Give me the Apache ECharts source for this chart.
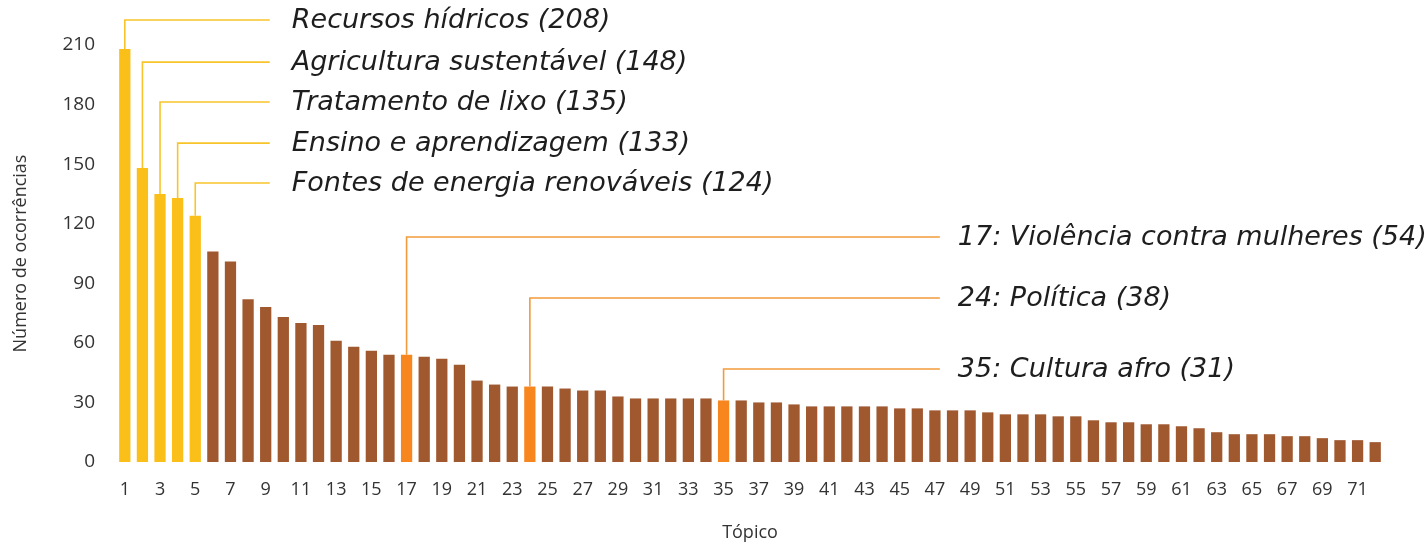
<!DOCTYPE html>
<html><head><meta charset="utf-8">
<script src="https://cdn.jsdelivr.net/npm/echarts@6/dist/echarts.min.js"></script>
<style>html,body{margin:0;padding:0;background:#fff}#c{width:1425px;height:547px}</style>
</head><body><div id="c"></div>
<script>
const topics = ['1','2','3','4','5','6','7','8','9','10','11','12','13','14','15','16','17','18','19','20','21','22','23','24','25','26','27','28','29','30','31','32','33','34','35','36','37','38','39','40','41','42','43','44','45','46','47','48','49','50','51','52','53','54','55','56','57','58','59','60','61','62','63','64','65','66','67','68','69','70','71','72'];
const occurrences = [208,148,135,133,124,106,101,82,78,73,70,69,61,58,56,54,54,53,52,49,41,39,38,38,38,37,36,36,33,32,32,32,32,32,31,31,30,30,29,28,28,28,28,28,27,27,26,26,26,25,24,24,24,23,23,21,20,20,19,19,18,17,15,14,14,14,13,13,12,11,11,10];
const topTopics = [1,2,3,4,5];
const highlightTopics = [17,24,35];
const annotationTopics = [1,2,3,4,5,17,24,35];
const annotationTexts = ['Recursos hídricos (208)','Agricultura sustentável (148)','Tratamento de lixo (135)','Ensino e aprendizagem (133)','Fontes de energia renováveis (124)','17: Violência contra mulheres (54)','24: Política (38)','35: Cultura afro (31)'];
const yTicks = ['0','30','60','90','120','150','180','210'];

// layout (annotation levels in axis units, line end / text start in category units)
const levels = [222.6,201.4,181.3,160.6,140.5,113.3,82.6,46.8];
const YELLOW='#FBBF1A', BROWN='#A0582F', ORANGE='#F8861F';

const barData = occurrences.map((v,i)=>{
  const t = i+1;
  let c = BROWN;
  if (topTopics.includes(t)) c = YELLOW;
  else if (highlightTopics.includes(t)) c = ORANGE;
  return {value:v, itemStyle:{color:c}};
});

const annData = annotationTopics.map((t,i)=>{
  const yellow = topTopics.includes(t);
  return [t-1, occurrences[t-1], levels[i], yellow?8.23:46.28, yellow?9.48:47.3];
});

const chart = echarts.init(document.getElementById('c'), null, {renderer:'canvas'});
chart.setOption({
  animation:false,
  grid:{left:116,right:41,top:45,bottom:85,containLabel:false},
  xAxis:{
    type:'category', data:topics, boundaryGap:true,
    name:'Tópico', nameLocation:'middle', nameGap:62,
    nameTextStyle:{fontFamily:'Open Sans',fontSize:18,color:'#333'},
    axisLine:{show:false}, axisTick:{show:false},
    axisLabel:{interval:1,fontFamily:'Open Sans',fontSize:18,color:'#333',margin:19}
  },
  yAxis:{
    type:'value', min:0, max:210, interval:30,
    name:'Número de ocorrências', nameLocation:'middle', nameGap:86, nameRotate:90,
    nameTextStyle:{fontFamily:'Open Sans',fontSize:18,color:'#333'},
    axisLine:{show:false}, axisTick:{show:false}, splitLine:{show:false},
    axisLabel:{fontFamily:'Open Sans',fontSize:19,color:'#333',margin:21,
      formatter:(v)=>yTicks[Math.round(v/30)]}
  },
  series:[
    {type:'bar', data:barData, barWidth:'64%'},
    {type:'custom', clip:false, z:5, data:annData,
     renderItem:(params, api)=>{
       const i = params.dataIndex;
       const t = annotationTopics[i];
       const yellow = topTopics.includes(t);
       const col = yellow ? '#F7C52A' : '#F29B3C';
       const band = api.size([1,0])[0];
       const x0 = api.coord([0, 0])[0];
       const p0 = api.coord([api.value(0), api.value(1)]);
       const yL = api.coord([api.value(0), api.value(2)])[1];
       const xEnd = x0 + api.value(3)*band;
       const xTxt = x0 + api.value(4)*band;
       return {type:'group', children:[
         {type:'polyline', shape:{points:[[p0[0],p0[1]],[p0[0],yL],[xEnd,yL]]},
          style:{stroke:col, lineWidth:1.6, fill:null}},
         {type:'text', x:xTxt, y:yL+1,
          style:{text:annotationTexts[i], fill:'#1e1e1e', font:'oblique 400 27px "DejaVu Sans"', textAlign:'left', textVerticalAlign:'middle'}}
       ]};
     }}
  ]
});
</script></body></html>
